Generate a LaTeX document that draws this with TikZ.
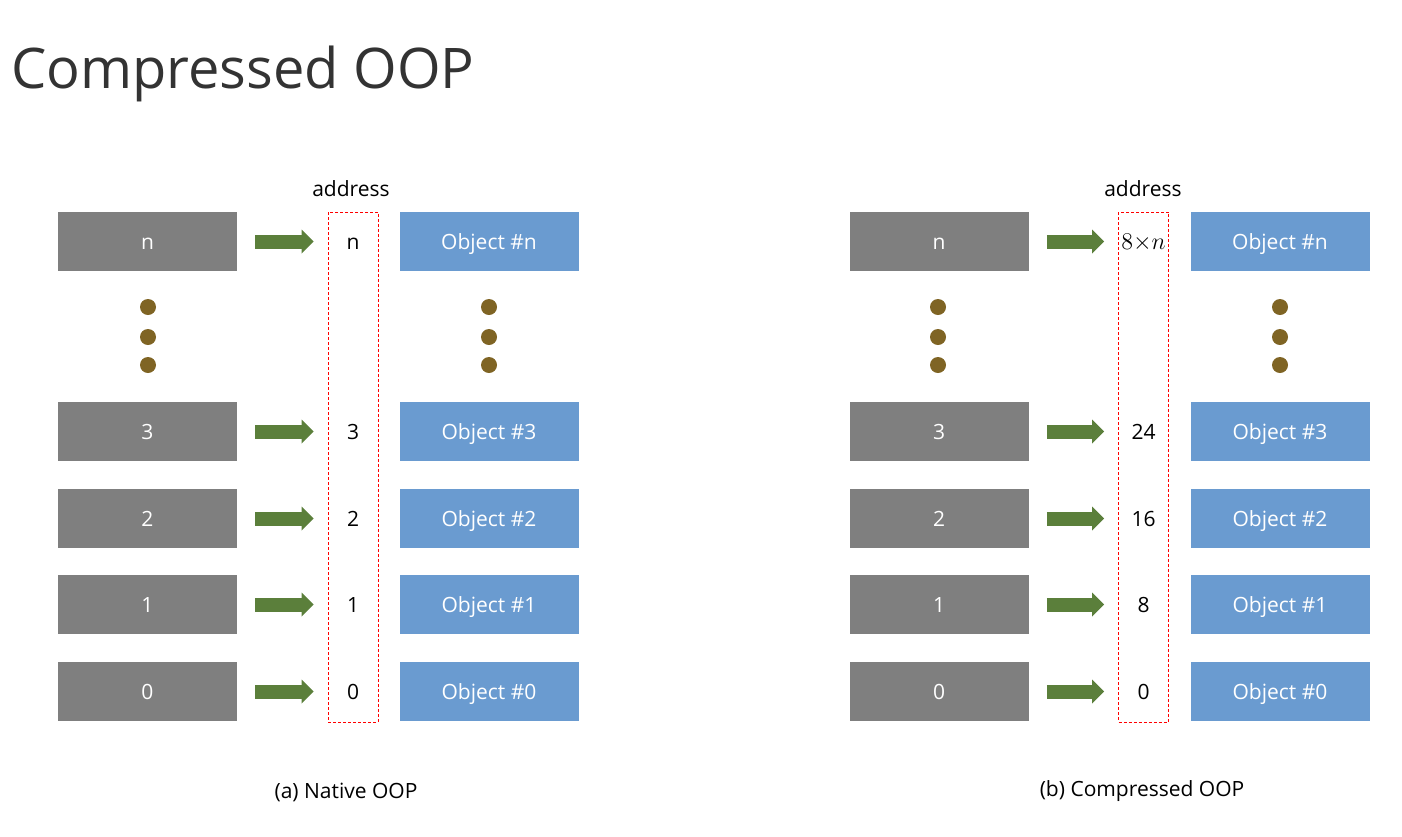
\documentclass[tikz,border=0pt]{standalone}
\usepackage{fontspec}
\setmainfont{Open Sans}
\usepackage{tikz}
\usetikzlibrary{arrows.meta}
\definecolor{regGray}{HTML}{7F7F7F}
\definecolor{objBlue}{HTML}{6A9BD0}
\definecolor{ptrGreen}{HTML}{5B7F3B}
\definecolor{dotBrown}{HTML}{7F6424}
\definecolor{titleGray}{HTML}{333333}
\tikzset{
  regbox/.style={fill=regGray, text=white, minimum width=89.5pt, minimum height=29.5pt, inner sep=0pt, text height=9pt, text depth=1pt, font=\fontsize{10.5}{12}\selectfont},
  objbox/.style={regbox, fill=objBlue},
  addrnode/.style={minimum width=25pt, minimum height=29.5pt, inner sep=0pt, text height=9pt, text depth=1pt, font=\fontsize{10.5}{12}\selectfont},
  addrcol/.style={draw=red, line width=0.5pt, dash pattern=on 1.5pt off 1pt, minimum width=25pt, minimum height=255pt, inner sep=0pt},
  ptrarrow/.style={draw=ptrGreen, line width=7pt, -{Triangle[length=6pt, width=12pt, line width=0pt]}, shorten <=9pt, shorten >=7pt},
  caption/.style={font=\fontsize{10.5}{12}\selectfont}
}
\newcommand{\regbox}[3] {\node at (#1) (#2) [regbox] {#3};}
\newcommand{\objbox}[3] {\node at (#1) (#2) [objbox] {#3};}
\newcommand{\addrnode}[3] {\node at (#1) (#2) [addrnode] {#3};}
\newcommand{\ptrarrow}[2] {\draw [ptrarrow] (#1) -- (#2);}
\newcommand{\dotcol}[1] {\foreach \y in {307,337,365} \fill [dotBrown] (#1,\y) circle (4pt);}

\begin{document}
\begin{tikzpicture}[x=0.5pt, y=-0.5pt]
\useasboundingbox (0,0) rectangle (1402,836);
\node at (4,88) (title) [anchor=base west, text=titleGray, font=\fontsize{28}{34}\selectfont] {Compressed OOP};

% (a) native
\node at (353,467) (colA) [addrcol] {};
\node at (351,189) (addrA) [caption] {address};
\regbox {147.5,241.5} {rAn} {n};
\regbox {147.5,431.5} {rA3} {3};
\regbox {147.5,518.5} {rA2} {2};
\regbox {147.5,604.5} {rA1} {1};
\regbox {147.5,691.5} {rA0} {0};
\addrnode {353,241.5} {aAn} {n};
\addrnode {353,431.5} {aA3} {3};
\addrnode {353,518.5} {aA2} {2};
\addrnode {353,604.5} {aA1} {1};
\addrnode {353,691.5} {aA0} {0};
\objbox {489,241.5} {oAn} {Object \#n};
\objbox {489,431.5} {oA3} {Object \#3};
\objbox {489,518.5} {oA2} {Object \#2};
\objbox {489,604.5} {oA1} {Object \#1};
\objbox {489,691.5} {oA0} {Object \#0};
\ptrarrow {rAn} {aAn};
\ptrarrow {rA3} {aA3};
\ptrarrow {rA2} {aA2};
\ptrarrow {rA1} {aA1};
\ptrarrow {rA0} {aA0};
\dotcol {148};
\dotcol {489};
\node at (346,792) (capA) [caption] {(a) Native OOP};

% (b) compressed
\node at (1143.5,467) (colB) [addrcol] {};
\node at (1143,189) (addrB) [caption] {address};
\regbox {939,241.5} {rBn} {n};
\regbox {939,431.5} {rB3} {3};
\regbox {939,518.5} {rB2} {2};
\regbox {939,604.5} {rB1} {1};
\regbox {939,691.5} {rB0} {0};
\addrnode {1143.5,241.5} {aBn} {\large$8{\times}n$};
\addrnode {1143.5,431.5} {aB3} {24};
\addrnode {1143.5,518.5} {aB2} {16};
\addrnode {1143.5,604.5} {aB1} {8};
\addrnode {1143.5,691.5} {aB0} {0};
\objbox {1280,241.5} {oBn} {Object \#n};
\objbox {1280,431.5} {oB3} {Object \#3};
\objbox {1280,518.5} {oB2} {Object \#2};
\objbox {1280,604.5} {oB1} {Object \#1};
\objbox {1280,691.5} {oB0} {Object \#0};
\ptrarrow {rBn} {aBn};
\ptrarrow {rB3} {aB3};
\ptrarrow {rB2} {aB2};
\ptrarrow {rB1} {aB1};
\ptrarrow {rB0} {aB0};
\dotcol {938};
\dotcol {1280};
\node at (1142,791) (capB) [caption] {(b) Compressed OOP};

%\node at (700,820) {};
\end{tikzpicture}
\end{document}
